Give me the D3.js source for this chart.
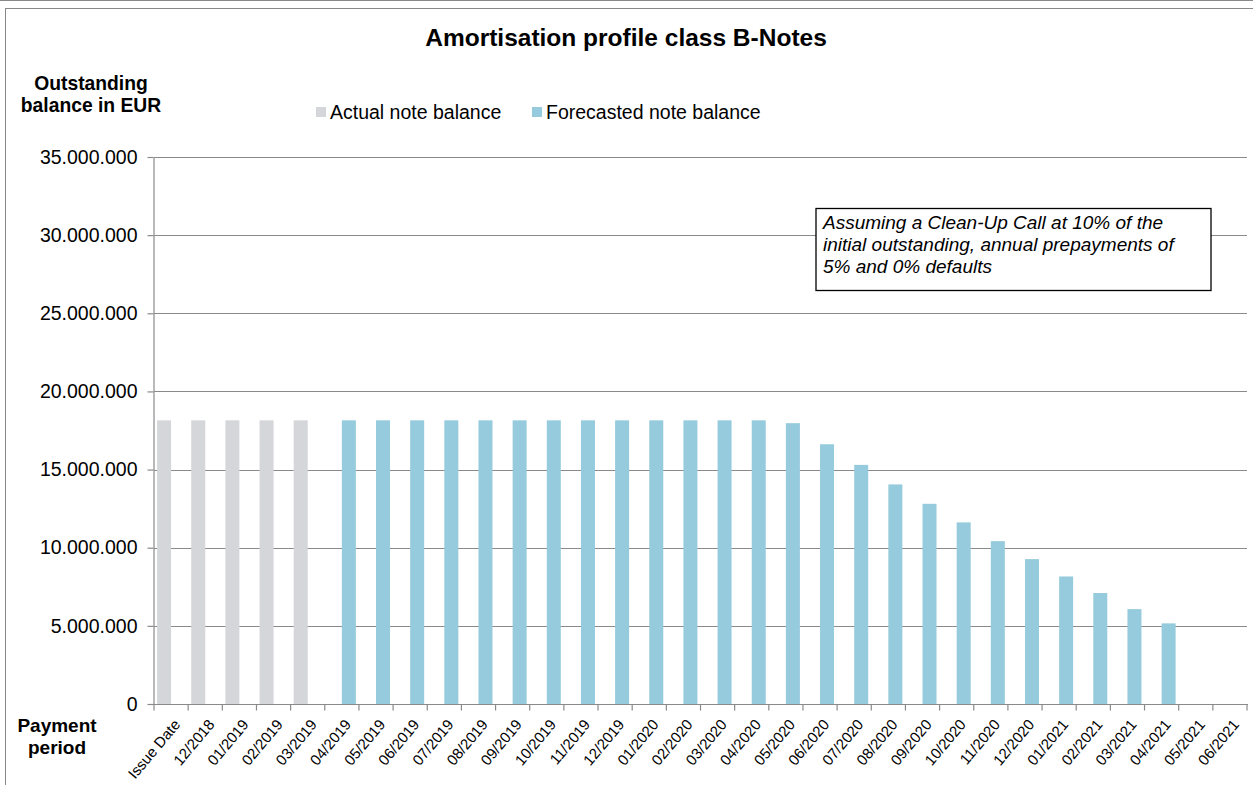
<!DOCTYPE html>
<html>
<head>
<meta charset="utf-8">
<script src="https://cdn.jsdelivr.net/npm/d3@7"></script>
<style>
  body { margin: 0; background: #fff; }
  svg { display: block; font-family: "Liberation Sans", Arial, sans-serif; }
</style>
</head>
<body>
<div id="chart"></div>
<script>
// chart data
var categories = ['Issue Date', '12/2018', '01/2019', '02/2019', '03/2019', '04/2019', '05/2019', '06/2019',
  '07/2019', '08/2019', '09/2019', '10/2019', '11/2019', '12/2019', '01/2020', '02/2020', '03/2020',
  '04/2020', '05/2020', '06/2020', '07/2020', '08/2020', '09/2020', '10/2020', '11/2020', '12/2020',
  '01/2021', '02/2021', '03/2021', '04/2021', '05/2021', '06/2021'];
var actualValues = [18150000, 18150000, 18150000, 18150000, 18150000];
var forecastValues = [null, null, null, null, null, 18150000, 18150000, 18150000, 18150000, 18150000,
  18150000, 18150000, 18150000, 18150000, 18150000, 18150000, 18150000, 18150000, 17970000, 16620000,
  15300000, 14050000, 12810000, 11620000, 10420000, 9270000, 8160000, 7100000, 6070000, 5160000, null, null];
var yTicks = [0, 5000000, 10000000, 15000000, 20000000, 25000000, 30000000, 35000000];
var seriesNames = ['Actual note balance', 'Forecasted note balance'];
var seriesColors = ['#d5d6da', '#95cbdc'];

var W = 1253, H = 785;
var plotLeft = 154, plotRight = 1247, plotTop = 157, plotBottom = 704;

var svg = d3.select('#chart').append('svg')
  .attr('width', W)
  .attr('height', H);

// outer frame
svg.append('line').attr('x1', 0).attr('x2', W).attr('y1', 0.5).attr('y2', 0.5)
  .attr('stroke', '#888').attr('stroke-width', 1);
svg.append('rect').attr('x', 5.5).attr('y', 8.5).attr('width', W + 10).attr('height', H)
  .attr('fill', 'none').attr('stroke', '#888').attr('stroke-width', 1);

var x0 = d3.scaleBand().domain(categories).range([plotLeft, plotRight]).padding(0);
var x1 = d3.scaleBand().domain([0, 1]).range([0, x0.bandwidth()]).paddingInner(0).paddingOuter(0.22);
var y = d3.scaleLinear().domain([0, 35000000]).range([plotBottom, plotTop]);

var fmt = function (v) { return d3.format(',')(v).replace(/,/g, '.'); };

// gridlines
svg.append('g').selectAll('line').data(yTicks.slice(1)).enter().append('line')
  .attr('x1', plotLeft).attr('x2', plotRight)
  .attr('y1', function (d) { return Math.round(y(d)) + 0.5; })
  .attr('y2', function (d) { return Math.round(y(d)) + 0.5; })
  .attr('stroke', '#8a8a8a').attr('stroke-width', 1.2);

// bars
var rows = categories.map(function (c, i) {
  return { cat: c, vals: [actualValues[i] == null ? null : actualValues[i], forecastValues[i]] };
});
var groups = svg.append('g').selectAll('g').data(rows).enter().append('g')
  .attr('transform', function (d) { return 'translate(' + x0(d.cat) + ',0)'; });
groups.selectAll('rect').data(function (d) {
  return d.vals.map(function (v, k) { return { k: k, v: v }; }).filter(function (e) { return e.v != null; });
}).enter().append('rect')
  .attr('x', function (d) { return x1(d.k); })
  .attr('width', x1.bandwidth())
  .attr('y', function (d) { return y(d.v); })
  .attr('height', function (d) { return plotBottom - y(d.v); })
  .attr('fill', function (d) { return seriesColors[d.k]; });

// y axis
var yAxis = svg.append('g').attr('transform', 'translate(' + (plotLeft - 0.5) + ',0)')
  .call(d3.axisLeft(y).tickValues(yTicks).tickFormat(fmt).tickSize(6).tickSizeOuter(0).tickPadding(10));
yAxis.select('.domain').attr('stroke', '#8a8a8a').attr('stroke-width', 1.2);
yAxis.selectAll('.tick line').attr('stroke', '#8a8a8a').attr('stroke-width', 1.2);
yAxis.selectAll('.tick text').attr('font-size', '19.5px').attr('fill', '#000')
  .attr('font-family', '"Liberation Sans", Arial, sans-serif');

// x axis
var xAxisG = svg.append('g').attr('transform', 'translate(0,' + (plotBottom + 0.5) + ')');
xAxisG.append('line').attr('x1', plotLeft - 6).attr('x2', plotRight + 1).attr('y1', 0).attr('y2', 0)
  .attr('stroke', '#8a8a8a').attr('stroke-width', 1.2);
xAxisG.selectAll('line.tk').data(categories.concat(['end'])).enter().append('line')
  .attr('class', 'tk')
  .attr('x1', function (d, i) { return i < categories.length ? x0(d) : plotRight; })
  .attr('x2', function (d, i) { return i < categories.length ? x0(d) : plotRight; })
  .attr('y1', 0).attr('y2', 6)
  .attr('stroke', '#8a8a8a').attr('stroke-width', 1.2);
xAxisG.selectAll('text').data(categories).enter().append('text')
  .attr('transform', function (d) {
    return 'translate(' + (x0(d) + x0.bandwidth() / 2 + 6) + ',17) rotate(-50)';
  })
  .attr('text-anchor', 'end')
  .attr('font-size', '15px')
  .attr('dy', '0.35em')
  .text(function (d) { return d; });

// title
svg.append('text').attr('x', 626).attr('y', 46).attr('text-anchor', 'middle')
  .attr('font-size', '24.5px').attr('font-weight', 'bold').text('Amortisation profile class B-Notes');

// axis titles
var yTitle = svg.append('text').attr('text-anchor', 'middle').attr('font-size', '19.3px').attr('font-weight', 'bold');
yTitle.append('tspan').attr('x', 91).attr('y', 90).text('Outstanding');
yTitle.append('tspan').attr('x', 91).attr('y', 112).text('balance in EUR');
var xTitle = svg.append('text').attr('text-anchor', 'middle').attr('font-size', '19px').attr('font-weight', 'bold');
xTitle.append('tspan').attr('x', 57).attr('y', 732).text('Payment');
xTitle.append('tspan').attr('x', 57).attr('y', 754).text('period');

// legend
var legendX = [316, 532];
var legend = svg.append('g').selectAll('g').data(seriesNames).enter().append('g')
  .attr('transform', function (d, i) { return 'translate(' + legendX[i] + ',107)'; });
legend.append('rect').attr('width', 10).attr('height', 10)
  .attr('fill', function (d, i) { return seriesColors[i]; });
legend.append('text').attr('x', 14).attr('y', 12).attr('font-size', '19.5px').text(function (d) { return d; });

// note box
var noteLines = ['Assuming a Clean-Up Call at 10% of the', 'initial outstanding, annual prepayments of', '5% and 0% defaults'];
svg.append('rect').attr('x', 816).attr('y', 208.5).attr('width', 395).attr('height', 82)
  .attr('fill', '#fff').attr('stroke', '#000').attr('stroke-width', 1.3);
svg.append('g').selectAll('text').data(noteLines).enter().append('text')
  .attr('x', 823).attr('y', function (d, i) { return 229 + i * 22; })
  .attr('font-size', '19px').attr('font-style', 'italic')
  .text(function (d) { return d; });
</script>
</body>
</html>
